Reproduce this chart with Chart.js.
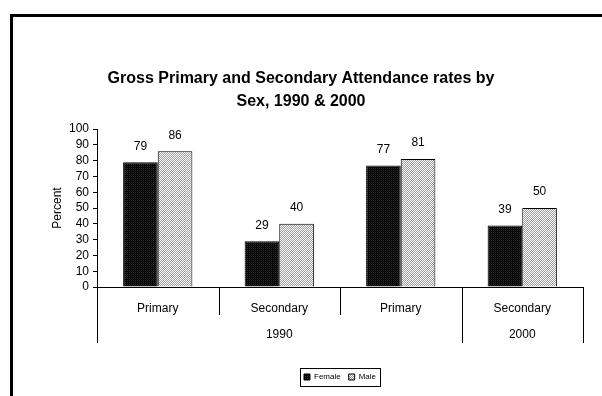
<!DOCTYPE html>
<html>
<head>
<meta charset="utf-8">
<script src="https://cdn.jsdelivr.net/npm/chart.js@4.4.1/dist/chart.umd.min.js"></script>
<style>
  html, body { margin: 0; padding: 0; background: #fff; overflow: hidden; width: 602px; height: 396px; }
  #frame { position: absolute; left: 10px; top: 14px; width: 700px; height: 500px; border: 3px solid #000; box-sizing: border-box; }
  #c { position: absolute; left: 0; top: 0; }
</style>
</head>
<body>
<div id="frame"></div>
<canvas id="c" width="602" height="396"></canvas>
<script>
// Attendance rates (%) by level and sex
const categories = ['Primary', 'Secondary', 'Primary', 'Secondary'];
const femaleRates = [79, 29, 77, 39];
const maleRates = [86, 40, 81, 50];
// Second-level labels under the category axis and how many categories each spans
const yearLabels = ['1990', '2000'];
const yearSpans = [3, 1];

const FONT = "'Liberation Sans', Arial, sans-serif";

function makePattern(cells) {
  const c = document.createElement('canvas');
  c.width = 2; c.height = 2;
  const g = c.getContext('2d');
  cells.forEach((col, i) => { g.fillStyle = col; g.fillRect(i % 2, Math.floor(i / 2), 1, 1); });
  return g.createPattern(c, 'repeat');
}
const femaleFill = makePattern(['#000000', '#2e2e2e', '#111111', '#000000']);
const maleFill = makePattern(['#ffffff', '#9c9c9c', '#9c9c9c', '#ffffff']);

const decorations = {
  id: 'decorations',
  afterDatasetsDraw(chart) {
    const ctx = chart.ctx;
    ctx.save();
    ctx.fillStyle = '#000';
    ctx.font = '12px ' + FONT;
    ctx.textAlign = 'center';
    ctx.textBaseline = 'middle';
    chart.data.datasets.forEach((ds, di) => {
      chart.getDatasetMeta(di).data.forEach((bar, i) => {
        ctx.fillText(String(ds.data[i]), bar.x, bar.y - 16);
      });
    });
    ctx.restore();
  },
  afterDraw(chart) {
    const ctx = chart.ctx;
    const xs = chart.scales.x;
    const n = categories.length;
    const bounds = [];
    for (let i = 0; i <= n; i++) {
      if (i === 0) bounds.push(xs.left);
      else if (i === n) bounds.push(xs.right);
      else bounds.push((xs.getPixelForValue(i - 1) + xs.getPixelForValue(i)) / 2);
    }
    const groupEdges = [0];
    yearSpans.forEach(s => groupEdges.push(groupEdges[groupEdges.length - 1] + s));
    const base = xs.top;
    ctx.save();
    ctx.strokeStyle = '#000';
    ctx.lineWidth = 1;
    bounds.forEach((bx, i) => {
      const long = groupEdges.includes(i);
      const x = Math.round(bx) + 0.5;
      ctx.beginPath();
      ctx.moveTo(x, base);
      ctx.lineTo(x, base + (long ? 56 : 28));
      ctx.stroke();
    });
    ctx.fillStyle = '#000';
    ctx.font = '12px ' + FONT;
    ctx.textAlign = 'center';
    ctx.textBaseline = 'middle';
    yearLabels.forEach((lab, g) => {
      const l = bounds[groupEdges[g]], r = bounds[groupEdges[g + 1]];
      ctx.fillText(lab, (l + r) / 2, base + 48);
    });
    // frame around the legend entries
    const boxes = chart.legend && chart.legend.legendHitBoxes;
    if (boxes && boxes.length) {
      let l = Infinity, t = Infinity, r = -Infinity, b = -Infinity;
      boxes.forEach(h => {
        l = Math.min(l, h.left); t = Math.min(t, h.top);
        r = Math.max(r, h.left + h.width); b = Math.max(b, h.top + h.height);
      });
      ctx.strokeRect(Math.round(l - 4) + 0.5, Math.round(t - 5) + 0.5, Math.round(r - l + 8), Math.round(b - t + 10));
    }
    ctx.restore();
  }
};

new Chart(document.getElementById('c'), {
  type: 'bar',
  data: {
    labels: categories,
    datasets: [
      { label: 'Female', data: femaleRates, backgroundColor: femaleFill, borderColor: '#000', borderWidth: 1,
        barPercentage: 1, categoryPercentage: 0.57 },
      { label: 'Male', data: maleRates, backgroundColor: maleFill, borderColor: '#000', borderWidth: 1,
        barPercentage: 1, categoryPercentage: 0.57 }
    ]
  },
  options: {
    responsive: false,
    animation: false,
    devicePixelRatio: 1,
    layout: { padding: { left: 19, right: 19, top: 0, bottom: 5 } },
    plugins: {
      title: {
        display: true,
        text: ['Gross Primary and Secondary Attendance rates by', 'Sex, 1990 & 2000'],
        color: '#000',
        font: { family: FONT, size: 16, weight: 'bold', lineHeight: 1.44 },
        padding: { top: 67, bottom: 16 }
      },
      legend: {
        display: true,
        position: 'bottom',
        fullSize: false,
        labels: {
          color: '#000',
          font: { family: FONT, size: 8 },
          boxWidth: 6,
          boxHeight: 6,
          padding: 8
        }
      },
      tooltip: { enabled: false }
    },
    scales: {
      x: {
        grid: { display: true, drawOnChartArea: false, drawTicks: false, color: 'rgba(0,0,0,0)' },
        border: { display: true, color: '#000', width: 1 },
        ticks: { color: '#000', font: { family: FONT, size: 12 }, padding: 14, maxRotation: 0 },
        afterFit(s) { s.height = 78; }
      },
      y: {
        min: 0, max: 100,
        ticks: { stepSize: 10, autoSkip: false, color: '#000', font: { family: FONT, size: 12 }, padding: 4 },
        grid: { drawOnChartArea: false, drawTicks: true, tickLength: 4, color: '#000' },
        border: { display: true, color: '#000', width: 1 },
        title: { display: true, text: 'Percent', color: '#000', font: { family: FONT, size: 12 }, padding: { top: 31, bottom: 0 } },
        afterFit(s) { s.width = 78; }
      }
    }
  },
  plugins: [decorations]
});
</script>
</body>
</html>
